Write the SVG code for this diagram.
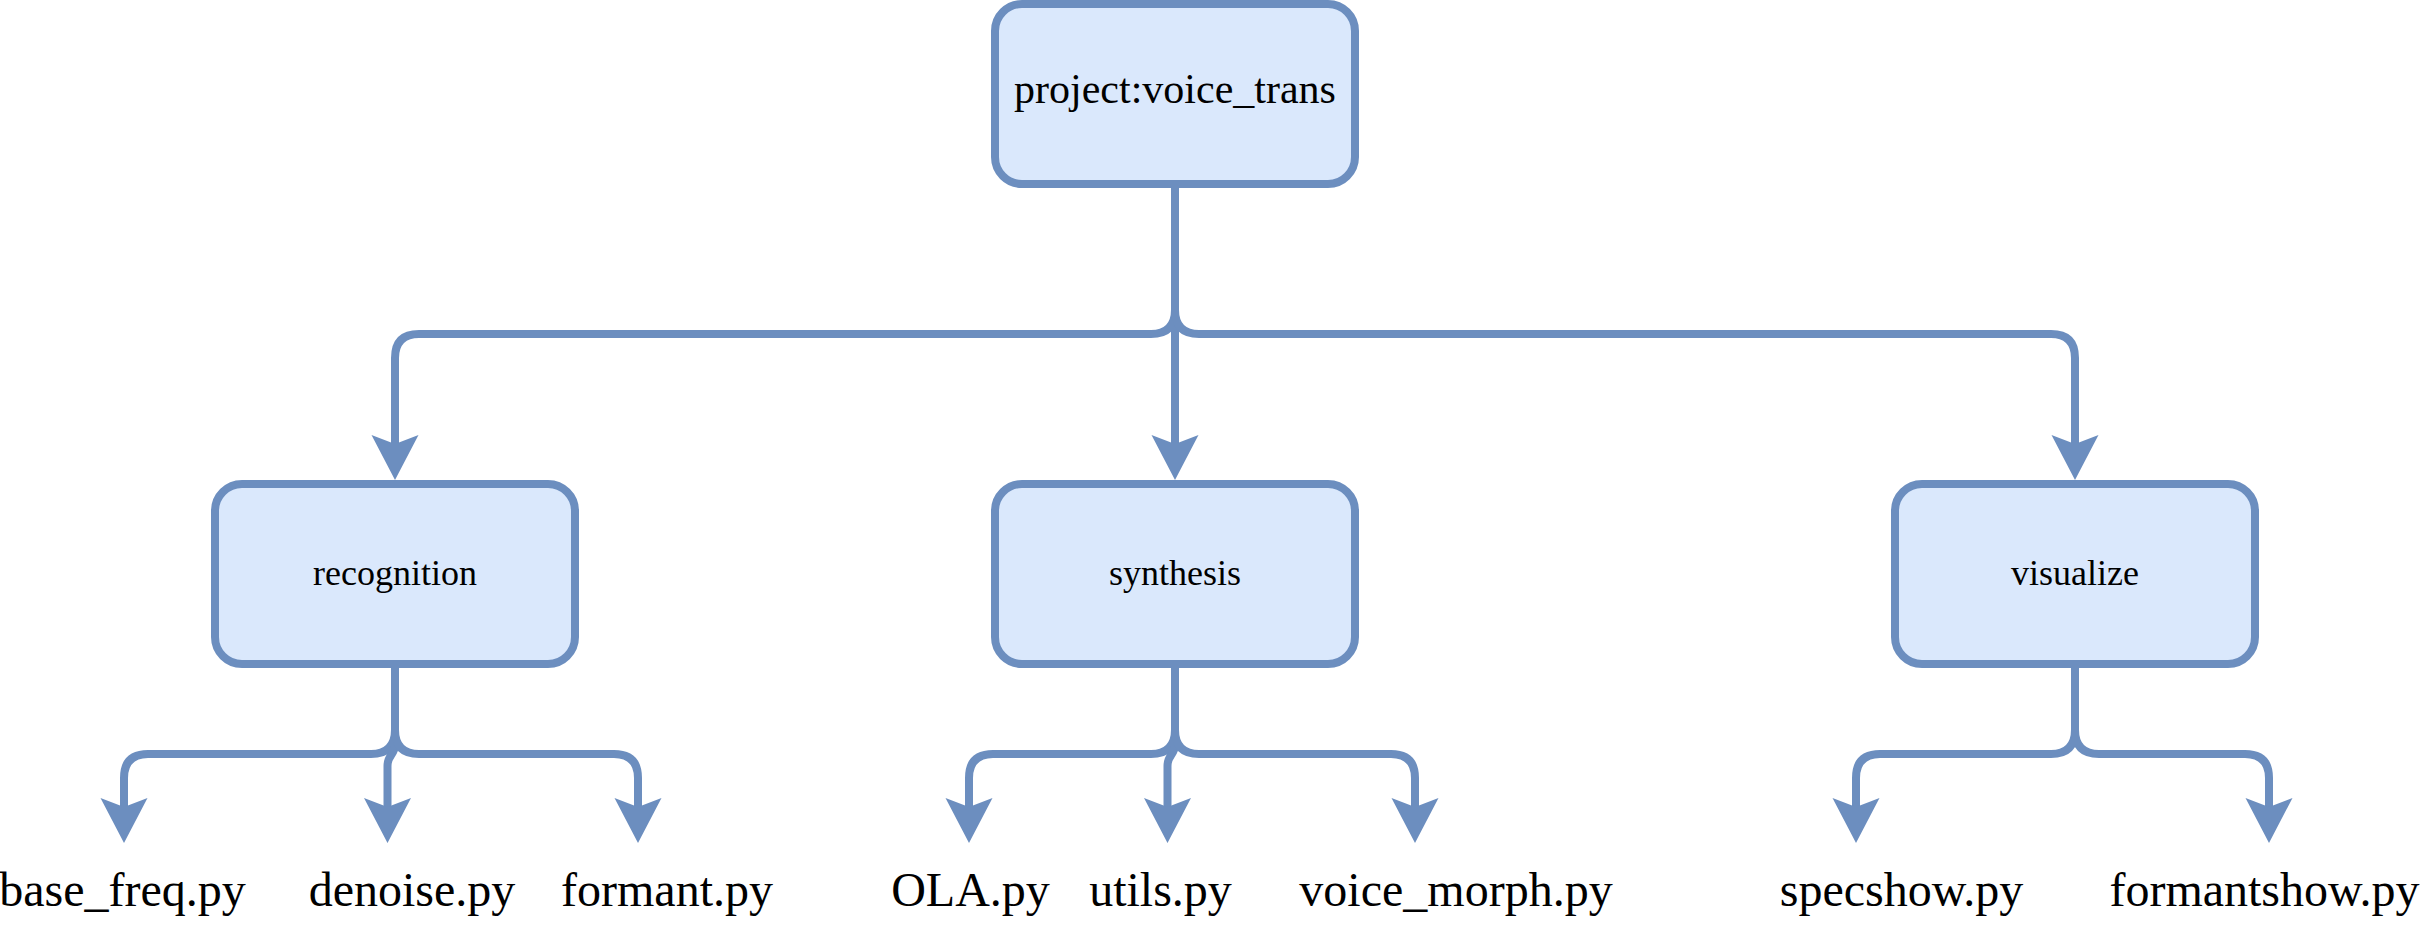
<svg xmlns="http://www.w3.org/2000/svg" width="2436" height="936" viewBox="0 0 2436 936">
<style>
.node rect{fill:#dae8fc;stroke:#6c8ebf;stroke-width:8}
.t{font-family:"Liberation Serif","Times New Roman",serif;fill:#000;text-anchor:middle}
.edge{fill:none;stroke:#6c8ebf;stroke-width:8;marker-end:url(#arr)}
</style>
<defs>
<marker id="arr" markerUnits="userSpaceOnUse" orient="auto" viewBox="-10 -25 48 50" markerWidth="48" markerHeight="50" refX="0" refY="0">
<path d="M36,0 L-9,-23.5 L0,0 L-9,23.5 Z" fill="#6c8ebf"/>
</marker>
</defs>
<rect width="2436" height="936" fill="#fff"/>
<g id="connectors">
<path class="edge" d="M1175,188 L1175,310 Q1175,334 1151,334 L419,334 Q395,334 395,358 L395,444"/>
<path class="edge" d="M1175,188 L1175,444"/>
<path class="edge" d="M1175,188 L1175,310 Q1175,334 1199,334 L2051,334 Q2075,334 2075,358 L2075,444"/>
<path class="edge" d="M395,668 L395,730 Q395,754 371,754 L148,754 Q124,754 124,778 L124,807"/>
<path class="edge" d="M395,668 L395,744 C395,756 387.5,754 387.5,766 L387.5,807"/>
<path class="edge" d="M395,668 L395,730 Q395,754 419,754 L614,754 Q638,754 638,778 L638,807"/>
<path class="edge" d="M1175,668 L1175,730 Q1175,754 1151,754 L993,754 Q969,754 969,778 L969,807"/>
<path class="edge" d="M1175,668 L1175,744 C1175,756 1167.5,754 1167.5,766 L1167.5,807"/>
<path class="edge" d="M1175,668 L1175,730 Q1175,754 1199,754 L1391,754 Q1415,754 1415,778 L1415,807"/>
<path class="edge" d="M2075,668 L2075,730 Q2075,754 2051,754 L1880,754 Q1856,754 1856,778 L1856,807"/>
<path class="edge" d="M2075,668 L2075,730 Q2075,754 2099,754 L2245,754 Q2269,754 2269,778 L2269,807"/>
</g>
<g id="root" class="node"><rect x="995" y="4" width="360" height="180" rx="27"/><text class="t" x="1175" y="103" font-size="42">project:voice_trans</text></g>
<g id="recognition" class="node"><rect x="215" y="484" width="360" height="180" rx="27"/><text class="t" x="395" y="585" font-size="36">recognition</text></g>
<g id="synthesis" class="node"><rect x="995" y="484" width="360" height="180" rx="27"/><text class="t" x="1175" y="585" font-size="36">synthesis</text></g>
<g id="visualize" class="node"><rect x="1895" y="484" width="360" height="180" rx="27"/><text class="t" x="2075" y="585" font-size="36">visualize</text></g>
<g id="base_freq"><text class="t" x="122.5" y="906" font-size="48">base_freq.py</text></g>
<g id="denoise"><text class="t" x="412" y="906" font-size="48">denoise.py</text></g>
<g id="formant"><text class="t" x="667" y="906" font-size="48">formant.py</text></g>
<g id="OLA"><text class="t" x="970.5" y="906" font-size="48">OLA.py</text></g>
<g id="utils"><text class="t" x="1160.5" y="906" font-size="48">utils.py</text></g>
<g id="voice_morph"><text class="t" x="1456" y="906" font-size="48">voice_morph.py</text></g>
<g id="specshow"><text class="t" x="1901.5" y="906" font-size="48">specshow.py</text></g>
<g id="formantshow"><text class="t" x="2264.5" y="906" font-size="48">formantshow.py</text></g>
</svg>
